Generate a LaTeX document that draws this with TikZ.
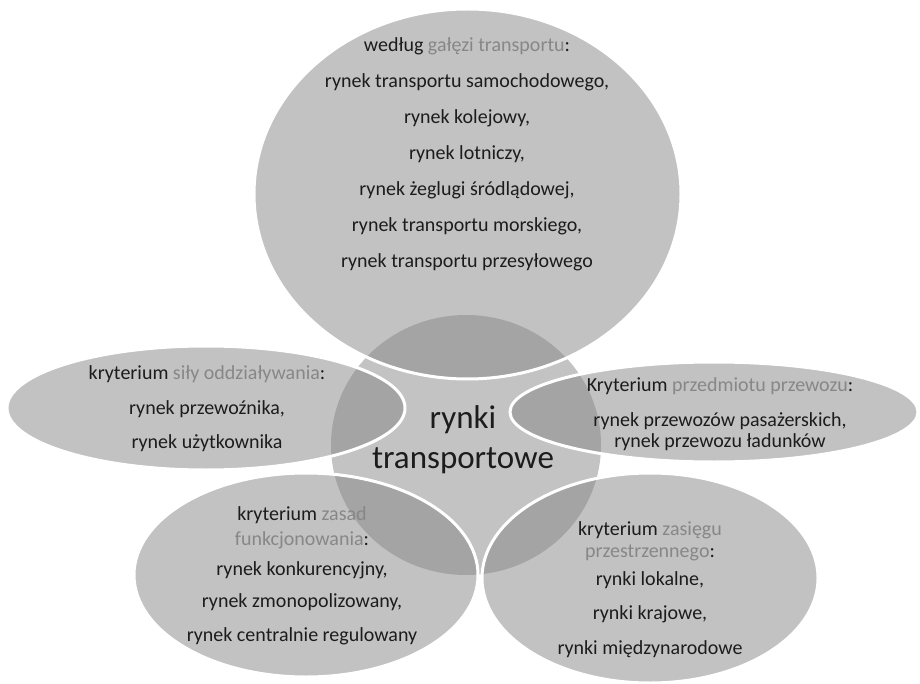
\documentclass[tikz,border=0pt]{standalone}
\usepackage{fontspec}
\setmainfont{Carlito}
\usetikzlibrary{shapes.geometric}

\definecolor{coregray}{HTML}{C3C3C3}
\definecolor{petalgray}{HTML}{878787}
\definecolor{hintgray}{HTML}{878787}
\definecolor{inkgray}{HTML}{1C1C1C}

\tikzset{
  core/.style={ellipse, fill=coregray, inner sep=0pt},
  petal/.style={ellipse, fill=petalgray, fill opacity=0.5, draw=white,
    line width=3pt, inner sep=0pt},
  label/.style={align=center, text=inkgray, inner sep=0pt,
    font=\fontsize{20}{36}\selectfont},
}
\newcommand{\hint}[1]{\textcolor{hintgray}{#1}}

\begin{document}
\begin{tikzpicture}[x=1pt,y=-1pt]
\useasboundingbox (0,0) rectangle (920,684);
\fill[white] (0,0) rectangle (920,684);

% central circle
\node[core, minimum width=270pt, minimum height=260pt] (hub) at (466,445) {};

% surrounding criteria
\node[petal, minimum width=427pt, minimum height=370pt] (branch) at (467.5,194) {};
\node[petal, minimum width=398pt, minimum height=124pt] (force) at (206,408) {};
\node[petal, minimum width=408pt, minimum height=100pt] (cargo) at (714,412) {};
\node[petal, minimum width=344pt, minimum height=204pt] (rules) at (306,575) {};
\node[petal, minimum width=336pt, minimum height=210pt] (range) at (650,578) {};

% texts
\node[label, font=\fontsize{33}{40}\selectfont] (hubtext) at (463,440)
  {rynki\\transportowe};

\node[label] (branchtext) at (467,154)
  {według \hint{gałęzi transportu}:\\
   rynek transportu samochodowego,\\
   rynek kolejowy,\\
   rynek lotniczy,\\
   rynek żeglugi śródlądowej,\\
   rynek transportu morskiego,\\
   rynek transportu przesyłowego};

\node[label, font=\fontsize{20}{34.5}\selectfont] (forcetext) at (207,409)
  {kryterium \hint{siły oddziaływania}:\\
   rynek przewoźnika,\\
   rynek użytkownika};

\node[label, font=\fontsize{20}{21}\selectfont] (cargotext) at (720,414)
  {Kryterium \hint{przedmiotu przewozu}:\\[14pt]
   rynek przewozów pasażerskich,\\
   rynek przewozu ładunków};

\node[label, font=\fontsize{20}{25}\selectfont] (rulestext) at (302,576)
  {kryterium \hint{zasad}\\
   \hint{funkcjonowania}:\\[5pt]
   rynek konkurencyjny,\\[7pt]
   rynek zmonopolizowany,\\[9pt]
   rynek centralnie regulowany};

\node[label, font=\fontsize{20}{22}\selectfont] (rangetext) at (650,590)
  {kryterium \hint{zasięgu}\\
   \hint{przestrzennego}:\\[6pt]
   rynki lokalne,\\[12pt]
   rynki krajowe,\\[13pt]
   rynki międzynarodowe};
\end{tikzpicture}
\end{document}
